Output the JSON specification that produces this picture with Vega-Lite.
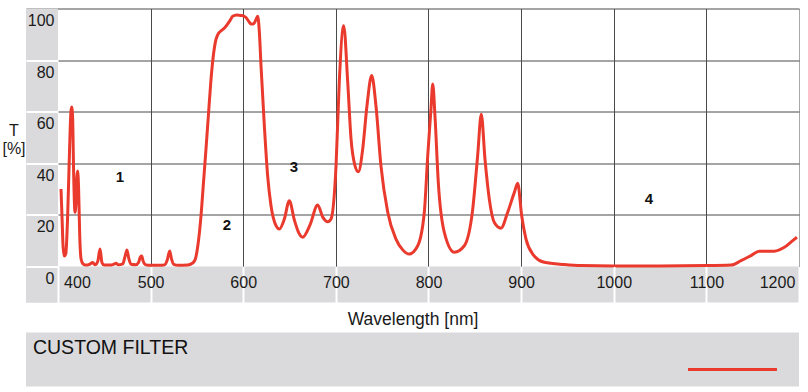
{
  "$schema": "https://vega.github.io/schema/vega-lite/v6.json",
  "padding": {"left": 1, "top": 8.5, "right": 0, "bottom": 0},
  "background": "white",
  "config": {"view": {"stroke": null}, "font": "Liberation Sans"},
  "spacing": 5,
  "datasets": {
    "spectrum": [
      {"wl": 403.3, "t": 30}, {"wl": 404.5, "t": 18}, {"wl": 405.5, "t": 8}, {"wl": 406.8, "t": 4}, {"wl": 408.5, "t": 5},
      {"wl": 410.5, "t": 20}, {"wl": 412.5, "t": 45}, {"wl": 414, "t": 60}, {"wl": 414.8, "t": 61.8}, {"wl": 415.8, "t": 58},
      {"wl": 417, "t": 35}, {"wl": 418.4, "t": 21}, {"wl": 419.5, "t": 25}, {"wl": 420.5, "t": 35}, {"wl": 421.3, "t": 37},
      {"wl": 422.3, "t": 30}, {"wl": 423.5, "t": 12}, {"wl": 424.9, "t": 3}, {"wl": 427, "t": 1}, {"wl": 430, "t": 0.5},
      {"wl": 434, "t": 0.8}, {"wl": 437.5, "t": 1.5}, {"wl": 440, "t": 0.6}, {"wl": 443, "t": 2}, {"wl": 445.4, "t": 6.7},
      {"wl": 447.5, "t": 1.5}, {"wl": 450, "t": 0.5}, {"wl": 456, "t": 0.5}, {"wl": 460, "t": 0.8}, {"wl": 462.7, "t": 1.2},
      {"wl": 465, "t": 0.6}, {"wl": 470, "t": 1}, {"wl": 472.5, "t": 4}, {"wl": 474.5, "t": 6.4}, {"wl": 476.5, "t": 3},
      {"wl": 479, "t": 0.8}, {"wl": 484, "t": 0.6}, {"wl": 487, "t": 1.5}, {"wl": 488.8, "t": 3.5}, {"wl": 490.4, "t": 4},
      {"wl": 492, "t": 2}, {"wl": 495, "t": 0.6}, {"wl": 500, "t": 0.4}, {"wl": 510, "t": 0.4}, {"wl": 515, "t": 0.6},
      {"wl": 518, "t": 2.5}, {"wl": 520.6, "t": 6}, {"wl": 522.5, "t": 3}, {"wl": 525, "t": 0.8}, {"wl": 530, "t": 0.4},
      {"wl": 540, "t": 0.5}, {"wl": 545, "t": 1.2}, {"wl": 548, "t": 2.5}, {"wl": 551, "t": 8}, {"wl": 554.4, "t": 19.5},
      {"wl": 557, "t": 32}, {"wl": 559.8, "t": 45.5}, {"wl": 562.5, "t": 59}, {"wl": 565, "t": 71.5}, {"wl": 567.5, "t": 81},
      {"wl": 570.6, "t": 88}, {"wl": 573, "t": 90.2}, {"wl": 576, "t": 91.3}, {"wl": 580, "t": 92.5}, {"wl": 583.2, "t": 94},
      {"wl": 586, "t": 95.5}, {"wl": 588.6, "t": 97}, {"wl": 593, "t": 97.5}, {"wl": 597.6, "t": 97.3}, {"wl": 601, "t": 97},
      {"wl": 603, "t": 96.5}, {"wl": 606, "t": 95}, {"wl": 608.4, "t": 94}, {"wl": 611, "t": 94}, {"wl": 613.5, "t": 95.5},
      {"wl": 615.6, "t": 97}, {"wl": 617.4, "t": 91}, {"wl": 619.2, "t": 77.8}, {"wl": 622.8, "t": 54.6}, {"wl": 626.4, "t": 35},
      {"wl": 630, "t": 23.5}, {"wl": 635.4, "t": 15.8}, {"wl": 639, "t": 14.5}, {"wl": 644.4, "t": 18.4}, {"wl": 649.8, "t": 25.5},
      {"wl": 655.2, "t": 18}, {"wl": 660, "t": 13}, {"wl": 664.2, "t": 11.3}, {"wl": 672, "t": 16}, {"wl": 680.4, "t": 23.8},
      {"wl": 686, "t": 19}, {"wl": 691.2, "t": 17.3}, {"wl": 694.8, "t": 18.4}, {"wl": 700.2, "t": 39}, {"wl": 703.7, "t": 71.5},
      {"wl": 708.5, "t": 93.3}, {"wl": 712.8, "t": 71.5}, {"wl": 716.4, "t": 49.4}, {"wl": 720.7, "t": 39}, {"wl": 724.3, "t": 36.7},
      {"wl": 729, "t": 45.5}, {"wl": 733.6, "t": 62.3}, {"wl": 738.7, "t": 74}, {"wl": 743.3, "t": 62.3}, {"wl": 748.7, "t": 39},
      {"wl": 756, "t": 21}, {"wl": 764.9, "t": 10.6}, {"wl": 772, "t": 6.5}, {"wl": 779.3, "t": 4.8}, {"wl": 788.4, "t": 8},
      {"wl": 795.5, "t": 21}, {"wl": 799.2, "t": 43}, {"wl": 802.7, "t": 61}, {"wl": 804.6, "t": 70.7}, {"wl": 807, "t": 58.4},
      {"wl": 810.6, "t": 32.6}, {"wl": 817.1, "t": 13.2}, {"wl": 827.9, "t": 5.5}, {"wl": 838.7, "t": 8}, {"wl": 847.7, "t": 22},
      {"wl": 853.1, "t": 43}, {"wl": 857, "t": 59}, {"wl": 861, "t": 41.6}, {"wl": 865.7, "t": 26}, {"wl": 871.1, "t": 17},
      {"wl": 878.3, "t": 14.8}, {"wl": 885.5, "t": 21}, {"wl": 892.7, "t": 28.7}, {"wl": 896.3, "t": 32.2}, {"wl": 900.6, "t": 19.7},
      {"wl": 905.3, "t": 10.6}, {"wl": 912.5, "t": 4.8}, {"wl": 925, "t": 1.6}, {"wl": 946.6, "t": 0.7}, {"wl": 964.7, "t": 0.3},
      {"wl": 1000, "t": 0.2}, {"wl": 1050, "t": 0.2}, {"wl": 1100, "t": 0.3}, {"wl": 1126.6, "t": 0.5}, {"wl": 1137.4, "t": 2.2},
      {"wl": 1148.2, "t": 4.2}, {"wl": 1157.1, "t": 5.9}, {"wl": 1173.3, "t": 5.9}, {"wl": 1184.2, "t": 7.4}, {"wl": 1193.2, "t": 10},
      {"wl": 1197.8, "t": 11.3}
    ],
    "notes": [
      {"label": "1", "wl": 467, "t": 34.7},
      {"label": "2", "wl": 582.5, "t": 16.1},
      {"label": "3", "wl": 654.8, "t": 38.5},
      {"label": "4", "wl": 1038, "t": 26.1}
    ],
    "legend": [{"series": "CUSTOM FILTER"}]
  },
  "vconcat": [
    {
      "width": 773,
      "height": 294,
      "resolve": {"axis": {"x": "independent", "y": "independent"}},
      "layer": [
        {
          "data": {"values": [{}]},
          "mark": {"type": "rect", "color": "#dadadc"},
          "encoding": {
            "x": {"datum": 365.5, "type": "quantitative", "axis": null},
            "x2": {"datum": 400},
            "y": {"datum": -14, "type": "quantitative", "axis": null},
            "y2": {"datum": 100}
          }
        },
        {
          "data": {"values": [{}]},
          "mark": {"type": "rect", "color": "#dadadc"},
          "encoding": {
            "x": {"datum": 365.5, "type": "quantitative", "axis": null},
            "x2": {"datum": 1200},
            "y": {"datum": -14, "type": "quantitative", "axis": null},
            "y2": {"datum": 0}
          }
        },
        {
          "data": {"name": "spectrum"},
          "mark": {"type": "line", "color": "#ea3a2d", "strokeWidth": 3, "interpolate": "monotone"},
          "encoding": {
            "x": {
              "field": "wl", "type": "quantitative",
              "scale": {"domain": [365.5, 1200], "nice": false, "zero": false},
              "axis": {
                "orient": "bottom", "values": [500, 600, 700, 800, 900, 1000, 1100, 1200],
                "grid": true, "gridWidth": 1,
                "gridColor": {"condition": {"test": "datum.value == 1200", "value": "#a8a8a8"}, "value": "#4a4a4a"},
                "ticks": false, "labels": false, "domain": false, "title": null, "zindex": 0
              }
            },
            "y": {
              "field": "t", "type": "quantitative",
              "scale": {"domain": [-14, 100], "nice": false, "zero": false},
              "axis": {
                "orient": "left", "values": [20, 40, 60, 80, 100],
                "grid": true, "gridWidth": 1, "gridColor": "#4a4a4a",
                "ticks": false, "labels": false, "domain": false, "title": null, "zindex": 0
              }
            }
          }
        },
        {
          "data": {"name": "notes"},
          "mark": {"type": "text", "font": "Liberation Sans", "fontSize": 15, "fontWeight": "bold", "color": "#111111", "align": "center", "baseline": "middle"},
          "encoding": {
            "text": {"field": "label"},
            "x": {
              "field": "wl", "type": "quantitative",
              "axis": {
                "orient": "bottom", "values": [400, 500, 600, 700, 800, 900, 1000, 1100, 1200],
                "format": "d",
                "grid": false, "domain": false, "ticks": true,
                "tickColor": "white", "tickWidth": 2, "tickSize": -36,
                "labelFont": "Liberation Sans", "labelFontSize": 16, "labelColor": "#1a1a1a",
                "labelBaseline": "alphabetic", "labelPadding": 20.5, "labelFlush": false, "labelOverlap": false,
                "labelAlign": "center",
                "labelOffset": {"condition": [{"test": "datum.value == 400", "value": 19}, {"test": "datum.value == 1200", "value": -22}], "value": 0},
                "title": "Wavelength [nm]", "titleFont": "Liberation Sans", "titleFontSize": 17.5,
                "titleFontWeight": "normal", "titleColor": "#1a1a1a", "titleY": 21.5, "titleBaseline": "alphabetic",
                "zindex": 1
              }
            },
            "y": {
              "field": "t", "type": "quantitative",
              "axis": {
                "orient": "left", "values": [0, 20, 40, 60, 80, 100],
                "grid": false, "domain": false, "ticks": true,
                "tickColor": "white", "tickWidth": 2, "tickSize": -32,
                "tickOpacity": {"condition": {"test": "datum.value == 100", "value": 0}, "value": 1},
                "labelFont": "Liberation Sans", "labelFontSize": 16, "labelColor": "#1a1a1a",
                "labelAlign": "right", "labelBaseline": "alphabetic", "labelPadding": 4, "labelOffset": 17,
                "labelOverlap": false, "labelFlush": false,
                "title": ["T", "[%]"], "titleAngle": 0, "titleX": -12.5, "titleY": 127,
                "titleAlign": "center", "titleBaseline": "alphabetic", "titleFont": "Liberation Sans",
                "titleFontSize": 16, "titleFontWeight": "normal", "titleColor": "#1a1a1a", "titleLineHeight": 18,
                "zindex": 1
              }
            }
          }
        }
      ]
    },
    {
      "width": 773,
      "height": 54,
      "view": {"fill": "#dadadc", "stroke": null},
      "data": {"name": "legend"},
      "layer": [
        {
          "mark": {"type": "text", "align": "left", "baseline": "alphabetic", "font": "Liberation Sans", "fontSize": 19.5, "color": "#111111"},
          "encoding": {
            "text": {"field": "series"},
            "x": {"datum": 0.009, "type": "quantitative", "scale": {"domain": [0, 1]}, "axis": null},
            "y": {"datum": 0.593, "type": "quantitative", "scale": {"domain": [0, 1]}, "axis": null}
          }
        },
        {
          "mark": {"type": "rule", "color": "#ea3a2d", "strokeWidth": 3},
          "encoding": {
            "x": {"datum": 0.8564, "type": "quantitative"},
            "x2": {"datum": 0.9715},
            "y": {"datum": 0.315, "type": "quantitative"}
          }
        }
      ]
    }
  ]
}
